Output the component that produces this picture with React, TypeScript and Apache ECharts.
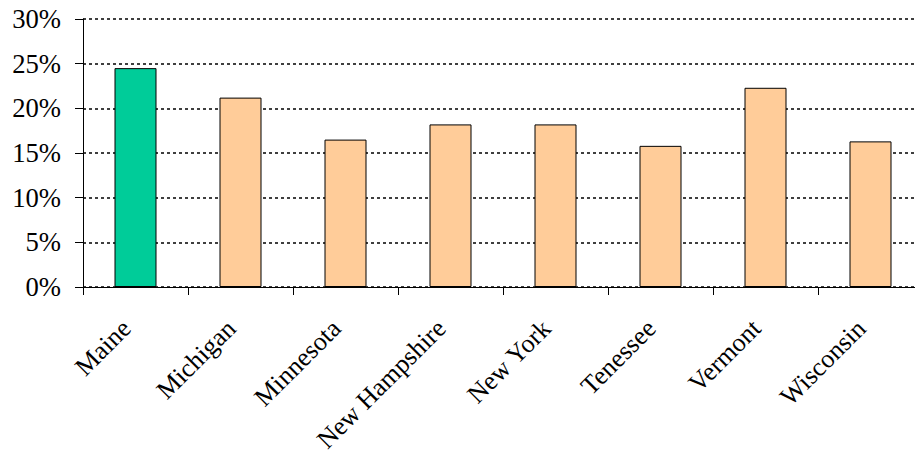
import React, { useEffect, useRef } from "react";
import * as echarts from "echarts";

const categories = ["Maine", "Michigan", "Minnesota", "New Hampshire", "New York", "Tenessee", "Vermont", "Wisconsin"];
const values = [0.245, 0.212, 0.165, 0.182, 0.182, 0.158, 0.223, 0.163];
const barColors = ["#00CC99", "#FFCC99", "#FFCC99", "#FFCC99", "#FFCC99", "#FFCC99", "#FFCC99", "#FFCC99"];
const yTicks = { min: 0, max: 0.3, interval: 0.05 };

export default function App() {
  const ref = useRef<HTMLDivElement>(null);
  useEffect(() => {
    if (!ref.current) return;
    const chart = echarts.init(ref.current, null, { renderer: "svg" });
    const font = "Liberation Serif";
    chart.setOption({
      animation: false,
      grid: { left: 83, top: 19, bottom: 170, right: -8, containLabel: false, outerBoundsMode: "none" },
      xAxis: {
        type: "category",
        data: categories,
        axisLine: { lineStyle: { color: "#000", width: 1 } },
        axisTick: { show: true, length: 8, inside: false, alignWithLabel: false, lineStyle: { color: "#000" } },
        axisLabel: {
          rotate: 45,
          interval: 0,
          margin: 28,
          padding: [0, 13, 0, 0],
          lineHeight: 20,
          fontFamily: font,
          fontSize: 26,
          color: "#000",
        },
      },
      yAxis: {
        type: "value",
        min: yTicks.min,
        max: yTicks.max,
        interval: yTicks.interval,
        axisLine: { show: true, lineStyle: { color: "#000", width: 1 } },
        axisTick: { show: true, length: 8, lineStyle: { color: "#000" } },
        axisLabel: {
          margin: 22,
          fontFamily: font,
          fontSize: 26.67,
          color: "#000",
          formatter: (v: number) => `${Math.round(v * 100)}%`,
        },
        splitLine: { show: true, lineStyle: { color: "#000", width: 1.5, type: [3, 3] } },
      },
      series: [
        {
          type: "bar",
          data: values.map((v, i) => ({ value: v, itemStyle: { color: barColors[i] } })),
          barWidth: "40%",
          itemStyle: { borderColor: "#000", borderWidth: 1 },
        },
      ],
    });
    return () => chart.dispose();
  }, []);
  return <div ref={ref} style={{ width: 915, height: 457, position: "absolute", left: 0, top: 0, background: "#fff" }} />;
}
